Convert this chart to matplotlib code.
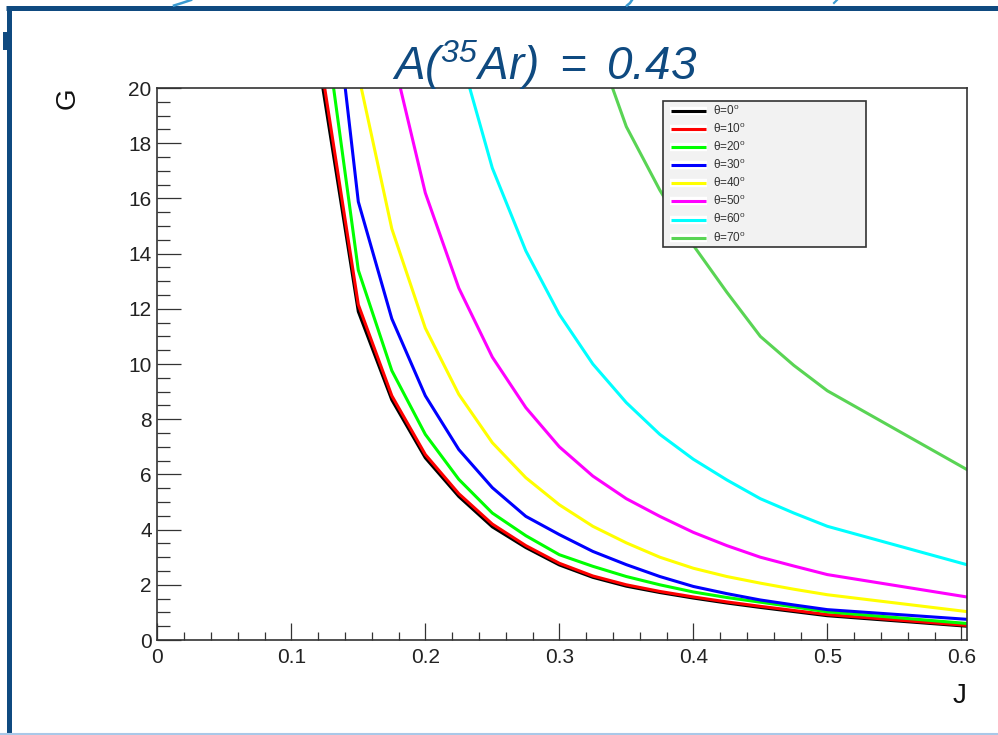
import numpy as np
import matplotlib
matplotlib.use("Agg")
import matplotlib.pyplot as plt
from matplotlib.patches import Rectangle

plt.rcParams['font.family'] = ['Liberation Sans', 'DejaVu Sans']
plt.rcParams['mathtext.fontset'] = 'custom'
plt.rcParams['mathtext.rm'] = 'Liberation Sans:italic'
plt.rcParams['mathtext.it'] = 'Liberation Sans:italic'
plt.rcParams['mathtext.sf'] = 'Liberation Sans'

nan = np.nan

# J grid shared by all curves; the last column is read where the curves meet the right frame
J = [0.1, 0.15, 0.175, 0.2, 0.225, 0.25, 0.275, 0.3, 0.325, 0.35,
     0.375, 0.4, 0.425, 0.45, 0.475, 0.5, 0.604]

g_0 = [27.2, 11.9, 8.7, 6.6, 5.2, 4.1, 3.35, 2.72, 2.27, 1.95,
       1.72, 1.52, 1.34, 1.18, 1.03, 0.88, 0.5]
g_10 = [27.8, 12.15, 8.85, 6.72, 5.3, 4.2, 3.42, 2.78, 2.32, 2.0,
        1.76, 1.56, 1.38, 1.22, 1.07, 0.92, 0.53]
g_20 = [31.3, 13.4, 9.76, 7.45, 5.82, 4.6, 3.78, 3.09, 2.67, 2.3,
        2.0, 1.74, 1.54, 1.37, 1.2, 1.02, 0.6]
g_30 = [37.0, 15.88, 11.64, 8.85, 6.9, 5.52, 4.48, 3.82, 3.21, 2.73,
        2.3, 1.94, 1.68, 1.45, 1.27, 1.1, 0.75]
g_40 = [nan, 20.5, 14.9, 11.3, 8.9, 7.15, 5.88, 4.9, 4.12, 3.52,
        3.0, 2.6, 2.3, 2.06, 1.84, 1.64, 1.03]
g_50 = [nan, nan, 21.3, 16.2, 12.75, 10.25, 8.42, 7.0, 5.94, 5.12,
        4.48, 3.9, 3.42, 3.0, 2.68, 2.37, 1.56]
g_60 = [nan, nan, nan, nan, 21.4, 17.1, 14.1, 11.8, 10.0, 8.6,
        7.45, 6.55, 5.8, 5.12, 4.6, 4.12, 2.73]
g_70 = [nan, nan, nan, nan, nan, nan, nan, nan, 22.0, 18.6,
        16.3, 14.3, 12.6, 11.0, 9.95, 9.03, 6.18]

series = [g_0, g_10, g_20, g_30, g_40, g_50, g_60, g_70]
labels = ['0', '10', '20', '30', '40', '50', '60', '70']
colors = ['#000000', '#ff0000', '#00ff00', '#0000ff', '#ffff00',
          '#ff00ff', '#00ffff', '#59d454']

xticks = [0, 0.1, 0.2, 0.3, 0.4, 0.5, 0.6]
xtick_labels = ['0', '0.1', '0.2', '0.3', '0.4', '0.5', '0.6']
yticks = [0, 2, 4, 6, 8, 10, 12, 14, 16, 18, 20]

W, H = 998, 735
fig = plt.figure(figsize=(W / 100, H / 100), dpi=100)

# slide decoration in pixel coordinates
deco = fig.add_axes([0, 0, 1, 1])
deco.set_xlim(0, W)
deco.set_ylim(H, 0)
deco.axis('off')
blue = '#0f4a80'
light = '#3a9ad0'
deco.plot([6, W], [8, 8], color=blue, lw=3.6, solid_capstyle='butt')
deco.plot([9, 9], [6, H], color=blue, lw=3.6, solid_capstyle='butt')
deco.add_patch(Rectangle((3, 32), 5, 18, color=blue, lw=0))
deco.plot([0, W], [733.5, 733.5], color='#a9c8e8', lw=1.5)
# bits of the slide background peeking above the frame
deco.plot([174, 182, 191], [5.5, 3, 0], color=light, lw=1.8)
deco.plot([627, 630, 632], [5.5, 3, 0], color=light, lw=1.8)
deco.plot([834, 837], [3, 0], color=light, lw=1.5)

# plot frame
L, R, T, B = 157.3, 966.7, 88, 640
ax = fig.add_axes([L / W, 1 - B / H, (R - L) / W, (B - T) / H])
for g, c in zip(series, colors):
    ax.plot(J, g, color=c, lw=2.2)

ax.set_xlim(0, 0.604)
ax.set_ylim(0, 20)
ax.set_xticks(xticks)
ax.set_xticklabels(xtick_labels)
ax.set_xticks(np.arange(0, 0.6041, 0.02), minor=True)
ax.set_yticks(yticks)
ax.set_yticklabels([str(v) for v in yticks])
ax.set_yticks(np.arange(0, 20.01, 0.5), minor=True)
ax.tick_params(axis='both', which='both', direction='in', color='#333333',
               width=0.9, labelsize=15, labelcolor='#222222')
ax.tick_params(axis='x', which='major', length=12, pad=6)
ax.tick_params(axis='x', which='minor', length=6)
ax.tick_params(axis='y', which='major', length=17, pad=4)
ax.tick_params(axis='y', which='minor', length=9)
for s in ax.spines.values():
    s.set_color('#333333')
    s.set_linewidth(1.2)

# legend box, drawn in axes fraction from pixel positions
def fx(px):
    return (px - L) / (R - L)

def fy(py):
    return (B - py) / (B - T)

ax.add_patch(Rectangle((fx(663), fy(247)), fx(866) - fx(663), fy(101) - fy(247),
                       transform=ax.transAxes, facecolor='#f2f2f2',
                       edgecolor='#333333', lw=1.2, zorder=5))
for i, (lab, c) in enumerate(zip(labels, colors)):
    yy = fy(110.7 + i * 18.14)
    ax.plot([fx(670), fx(707)], [yy, yy], transform=ax.transAxes,
            color='white', lw=6, solid_capstyle='butt', zorder=6)
    ax.plot([fx(671), fx(706)], [yy, yy], transform=ax.transAxes,
            color=c, lw=2.2, solid_capstyle='butt', zorder=7)
    ax.text(fx(713), yy, 'θ=' + lab + r'$^{\mathsf{o}}$', transform=ax.transAxes,
            fontsize=8.5, color='#333333', va='center', ha='left', zorder=7)

# title and axis titles
fig.text(544.5 / W, 1 - 80 / H, r'$A(^{35}Ar)\ =\ 0.43$',
         fontsize=33, color=blue, ha='center', va='baseline')
fig.text(67.5 / W, 1 - 98 / H, 'G', rotation=90, fontsize=20,
         ha='center', va='center', color='#111111')
fig.text(960 / W, 1 - 696 / H, 'J', fontsize=20,
         ha='center', va='center', color='#111111')

fig.savefig('out.png', dpi=100, facecolor='white')
